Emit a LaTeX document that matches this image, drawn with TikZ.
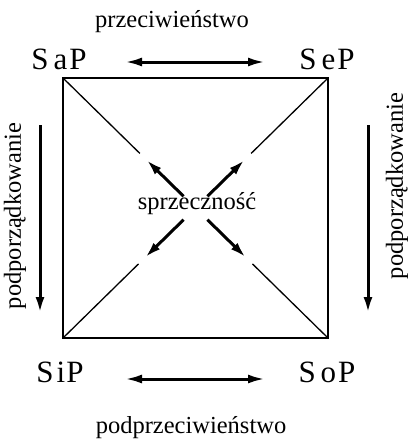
\documentclass[tikz,border=0pt]{standalone}
\usepackage{fontspec}
\setmainfont{Liberation Serif}
\usetikzlibrary{arrows.meta,calc}
\begin{document}
\begin{tikzpicture}[x=1pt,y=-1pt,
  big/.style={font=\fontsize{31}{31}\selectfont, inner sep=0pt},
  lab/.style={font=\fontsize{24.5}{24.5}\selectfont, inner sep=0pt},
  edge/.style={line width=1.3pt},
  rel/.style={line width=3pt, -{Latex[length=16pt,width=9pt]}},
  relb/.style={line width=3pt, {Latex[length=17pt,width=9pt]}-{Latex[length=17pt,width=9pt]}}]
\useasboundingbox[fill=white] (0,0) rectangle (408,448);
% square corners
\coordinate (A) at (63,78);
\coordinate (B) at (328,78);
\coordinate (C) at (63,338);
\coordinate (D) at (328,338);
\coordinate (O) at (195.5,208);
\draw[edge] (A) rectangle (D);
% diagonal pieces
\coordinate (a1) at ($(A)!0.58!(O)$);
\coordinate (b1) at ($(B)!0.58!(O)$);
\coordinate (c1) at ($(C)!0.57!(O)$);
\coordinate (d1) at ($(D)!0.57!(O)$);
\draw[edge] (A) -- (a1);
\draw[edge] (B) -- (b1);
\draw[edge] (C) -- (c1);
\draw[edge] (D) -- (d1);
% contradiction arrows
\coordinate (at) at ($(A)!0.91!(O)$);
\coordinate (ah) at ($(A)!0.63!(O)$);
\coordinate (bt) at ($(B)!0.91!(O)$);
\coordinate (bh) at ($(B)!0.63!(O)$);
\coordinate (ct) at ($(C)!0.91!(O)$);
\coordinate (ch) at ($(C)!0.62!(O)$);
\coordinate (dt) at ($(D)!0.91!(O)$);
\coordinate (dh) at ($(D)!0.62!(O)$);
\draw[rel] (at) -- (ah);
\draw[rel] (bt) -- (bh);
\draw[rel] (ct) -- (ch);
\draw[rel] (dt) -- (dh);
\node[lab] (spr) at (197,204) {sprzeczność};
% corner labels
\node[big] (sap) at (59,59) {S\hspace{5pt}a\hspace{2pt}P};
\node[big] (sep) at (327,59) {S\hspace{5pt}e\hspace{2pt}P};
\node[big] (sip) at (60,372) {S\hspace{3pt}i\hspace{1pt}P};
\node[big] (sop) at (327,372) {S\hspace{5pt}o\hspace{2pt}P};
% horizontal arrows
\coordinate (t1) at (125,62);
\coordinate (t2) at (265,62);
\coordinate (u1) at (125,379);
\coordinate (u2) at (265,379);
\draw[relb] (t1) -- (t2);
\draw[relb] (u1) -- (u2);
\node[lab] (prz) at (172,22) {przeciwieństwo};
\node[lab] (pprz) at (191,428) {podprzeciwieństwo};
% vertical arrows
\coordinate (l1) at (40,125);
\coordinate (l2) at (40,313);
\coordinate (r1) at (368,125);
\coordinate (r2) at (368,313);
\draw[rel] (l1) -- (l2);
\draw[rel] (r1) -- (r2);
\node[lab, rotate=90] (pl) at (15,216) {podporządkowanie};
\node[lab, rotate=90] (pr) at (397,186) {podporządkowanie};
\end{tikzpicture}
\end{document}
